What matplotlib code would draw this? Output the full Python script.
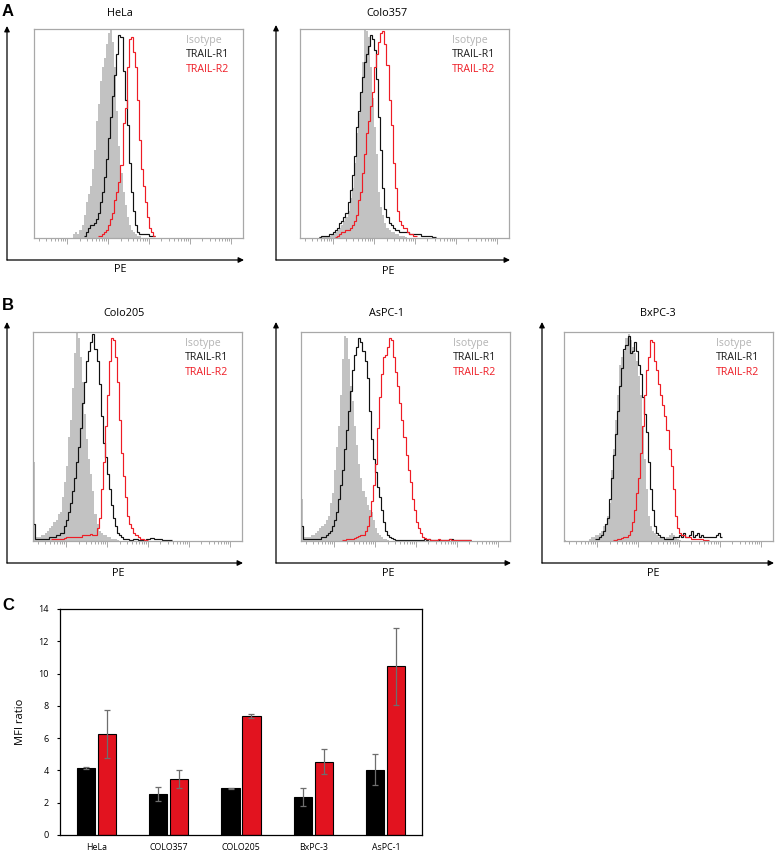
import numpy as np
import matplotlib
matplotlib.use("Agg")
from matplotlib import pyplot as plt

W, H = 778, 852
plt.rcParams['font.family'] = ['Open Sans', 'DejaVu Sans']

# ---- flow cytometry histograms (heights in % of mode, bins 0.05 decades wide) ----
BIN = 0.05
XLO, XHI = 0.19, 5.29

hela_start = 1.15
hela_iso = [2, 3, 2, 4, 6, 11, 17, 21, 25, 33, 42, 56, 64, 75, 82, 86, 93, 98, 100, 94,
            82, 61, 44, 31, 22, 16, 10, 6, 4, 3, 2, 1, 1]
hela_r1 = [0, 0, 0, 0, 0, 1, 3, 5, 6, 6, 7, 9, 12, 17, 22, 29, 38, 48, 58, 68,
           78, 88, 97, 96, 80, 66, 54, 36, 22, 13, 6, 3, 2, 2, 2, 2, 2, 1, 1, 1]
hela_r2 = [0, 0, 0, 0, 0, 0, 0, 0, 0, 0, 0, 0, 1, 1, 2, 3, 4, 6, 9, 12,
           18, 22, 27, 35, 55, 62, 82, 95, 96, 89, 82, 66, 47, 33, 25, 17, 10, 5, 3, 1]

colo357_start = 0.65
colo357_iso = [0.5, 0.5, 0.5, 1, 1, 1, 2, 2, 3, 4, 5, 6, 8, 10, 13, 19, 24, 36, 50, 60,
               70, 84, 100, 99, 96, 82, 67, 53, 40, 22, 15, 11, 7, 5, 4, 3, 3, 2, 2, 1,
               1, 1, 0.5]
colo357_r1 = [0.5, 1, 1, 1, 1, 2, 2, 3, 4, 5, 7, 8, 10, 12, 17, 23, 30, 39, 53, 61,
              70, 77, 84, 88, 92, 97, 95, 90, 76, 58, 42, 24, 14, 10, 7, 6, 5, 4, 4, 3,
              3, 3, 3, 3, 2, 2, 2, 2, 2, 2, 1, 1, 1, 1, 1, 0.5, 0.5]
colo357_r2 = [0, 0, 0, 0, 0, 0, 0, 0, 0.5, 1, 2, 3, 3, 4, 4, 5, 6, 8, 11, 18,
              22, 31, 40, 50, 56, 63, 70, 82, 88, 94, 98, 99, 93, 83, 66, 54, 36, 24, 13, 8,
              6, 5, 5, 3, 2, 2, 1, 1]

colo205_start = 0.19
colo205_iso = [38, 2, 2, 2, 3, 3, 4, 5, 6, 7, 9, 10, 13, 14, 21, 28, 36, 50, 58, 73,
               90, 100, 97, 88, 76, 61, 49, 39, 32, 24, 13, 8, 5, 4, 3, 3, 2, 2, 1, 1,
               1, 0.5]
colo205_r1 = [8, 1, 1, 1, 1, 1, 1, 1, 2, 2, 2, 3, 3, 4, 4, 7, 10, 14, 18, 24,
              30, 38, 45, 54, 66, 76, 86, 91, 95, 99, 92, 86, 75, 60, 47, 40, 32, 25, 17, 11,
              7, 4, 3, 2, 1, 1, 1, 0.5, 0.5, 1, 1, 0.5, 0.5, 0.5, 0.5, 1, 1, 1.5, 1.5, 1,
              1, 1, 1, 0.5, 0.5, 0.5, 0.5, 0.5]
colo205_r2 = [0, 0, 0, 0, 0, 0, 0, 0, 0, 1, 1, 1, 1, 1, 1, 1.5, 2, 2, 2, 2,
              2, 2, 2, 2, 3, 3, 3, 3, 3.5, 3, 3, 6, 11, 25, 38, 55, 70, 86, 97, 96,
              88, 76, 58, 42, 31, 21, 12, 8, 6, 4, 3, 2, 1, 1, 0.5, 0.5]

aspc1_start = 0.19
aspc1_iso = [20, 2, 2, 2, 2, 3, 3, 4, 5, 6, 7, 8, 10, 12, 18, 23, 34, 45, 55, 70,
             87, 98, 97, 87, 74, 67, 55, 46, 37, 30, 24, 21, 17, 15, 14, 10, 6, 4, 3, 2,
             1, 1, 0.5]
aspc1_r1 = [7, 1, 1, 1, 1, 1, 1, 1, 1, 1, 2, 2, 3, 4, 5, 7, 10, 14, 20, 27,
            34, 44, 53, 62, 72, 82, 89, 93, 97, 95, 91, 86, 78, 62, 49, 39, 33, 26, 21, 15,
            9, 5, 3, 2, 1.5, 1, 0.5, 0.5, 0.5, 0.5, 0.5, 0.5, 0.5, 0.5, 0.5, 0.5, 0.5, 0.5, 0.5, 0.5,
            1, 0.5, 1, 0.5, 0.5, 0.5, 0.5, 0.5, 0.5, 0.5, 0.5, 0.5, 1, 1, 0.5, 0.5, 0.5, 0.5, 0.5, 0.5,
            0.5, 0.5, 0.5]
aspc1_r2 = [0, 0, 0, 0, 0, 0, 0, 0, 0, 0, 0, 0, 0, 0, 0, 0, 0, 0, 0, 0,
            0.5, 0.5, 1, 1, 1, 1, 1.5, 2, 2.5, 3, 3, 5, 7, 12, 19, 27, 37, 54, 69, 80,
            88, 89, 93, 97, 96, 88, 81, 74, 66, 58, 50, 41, 34, 28, 20, 15, 9, 6, 4, 2,
            1.5, 1, 1, 0.5, 0.5, 0.5, 0.5, 1, 0.5, 0.5, 0.5, 0.5, 1, 0.5, 0.5, 0.5, 0.5, 0.5, 0.5, 0.5,
            0.5, 0.5, 0.5]

bxpc3_start = 0.19
bxpc3_iso = [0.5, 0, 0, 0, 0, 0, 0, 0, 0, 0, 0, 0, 1, 2, 2, 3, 3, 4, 5, 7,
             8, 12, 18, 34, 44, 58, 70, 84, 88, 91, 97, 99, 96, 93, 90, 86, 79, 70, 55, 39,
             25, 12, 7, 5, 4, 3, 2, 2, 2, 1, 2, 3, 4, 3, 2, 1, 0.5]
bxpc3_r1 = [0, 0, 0, 0, 0, 0, 0, 0, 0, 0, 0, 0, 0, 0, 0, 1, 1, 2, 3, 5,
            8, 11, 20, 30, 41, 51, 62, 74, 83, 92, 94, 98, 90, 91, 95, 91, 84, 80, 69, 61,
            52, 38, 25, 15, 7, 4, 3, 2, 2, 1, 1, 1, 1, 2, 2, 2, 3, 2, 4, 2,
            2, 3, 5, 2, 3, 4, 2, 3, 2, 2, 2, 2, 2, 2, 3, 4, 2]
bxpc3_r2 = [0, 0, 0, 0, 0, 0, 0, 0, 0, 0, 0, 0, 0, 0, 0, 0, 0, 0, 0, 0,
            0, 0, 0, 0, 0.5, 0.5, 1, 1, 1.5, 2, 2, 3, 5, 9, 15, 23, 30, 42, 55, 70,
            82, 88, 96, 95, 86, 82, 75, 70, 65, 60, 53, 44, 36, 25, 12, 6, 4, 3, 3, 2,
            2, 2, 1, 1, 1, 1, 1, 1, 0.5, 0.5, 0.5]

# ---- MFI ratio bars ----
cell_lines = ["HeLa", "COLO357", "COLO205", "BxPC-3", "AsPC-1"]
r1_mfi = [4.15, 2.55, 2.9, 2.35, 4.05]
r1_err = [0.05, 0.42, 0.03, 0.55, 0.95]
r2_mfi = [6.25, 3.45, 7.35, 4.55, 10.45]
r2_err = [1.5, 0.55, 0.12, 0.75, 2.4]

GREY_FILL = "#c2c2c2"
RED = "#ee1c25"
BAR_RED = "#e2131f"


def px_rect(x0, y0, x1, y1):
    return [x0 / W, 1 - y1 / H, (x1 - x0) / W, (y1 - y0) / H]


def curve(ax, start, vals, **kw):
    vals = np.array(vals, dtype=float)
    nz = np.nonzero(vals)[0]
    i0, i1 = nz[0], nz[-1] + 1
    edges = 10 ** (start + BIN * np.arange(len(vals) + 1))
    ax.stairs(vals[i0:i1], edges[i0:i1 + 1], **kw)


def histo(box, title, title_x, pe_x, pe_y, title_y, arrow_x, arrow_top, start, iso, r1, r2):
    x0, y0, x1, y1 = box
    ax = fig.add_axes(px_rect(x0, y0, x1, y1))
    curve(ax, start, iso, fill=True, color=GREY_FILL, lw=0, baseline=0)
    curve(ax, start, r1, color="#111111", lw=0.85, baseline=None)
    curve(ax, start, r2, color=RED, lw=0.85, baseline=None)
    ax.set_xscale("log")
    ax.set_xlim(10 ** XLO, 10 ** XHI)
    ax.set_ylim(0, 100)
    ax.set_yticks([])
    ax.xaxis.set_major_locator(matplotlib.ticker.LogLocator(base=10, numticks=10))
    ax.xaxis.set_minor_locator(matplotlib.ticker.LogLocator(base=10, subs=np.arange(2, 10), numticks=10))
    ax.tick_params(axis="x", which="major", length=4, width=0.6, color="#9a9a9a", labelbottom=False)
    ax.tick_params(axis="x", which="minor", length=2.5, width=0.6, color="#9a9a9a")
    for s in ax.spines.values():
        s.set_color("#a8a8a8")
        s.set_linewidth(0.9)
    ax.text(0.727, 0.947, "Isotype", color="#b4b4b4", fontsize=7.6, transform=ax.transAxes, va="center")
    ax.text(0.727, 0.876, "TRAIL-R1", color="#1a1a1a", fontsize=7.6, transform=ax.transAxes, va="center")
    ax.text(0.727, 0.805, "TRAIL-R2", color=RED, fontsize=7.6, transform=ax.transAxes, va="center")
    fig.text(title_x / W, 1 - title_y / H, title, fontsize=7.8, ha="center", va="center")
    fig.text(pe_x / W, 1 - pe_y / H, "PE", fontsize=7.8, ha="center", va="center")
    base_y = y1 + 22
    arr = dict(arrowstyle="-|>", color="k", lw=0.9, mutation_scale=8, shrinkA=0, shrinkB=0)
    fig.add_artist(matplotlib.patches.FancyArrowPatch(
        (arrow_x, H - base_y), (arrow_x, H - arrow_top), transform=None, **arr))
    fig.add_artist(matplotlib.patches.FancyArrowPatch(
        (arrow_x, H - base_y), (x1 + 1, H - base_y), transform=None, **arr))


fig = plt.figure(figsize=(W / 100, H / 100), dpi=100)

histo((34, 29, 243, 238), "HeLa", 120, 120, 270, 14, 7, 26, hela_start, hela_iso, hela_r1, hela_r2)
histo((300, 29, 509, 238), "Colo357", 387, 388, 271, 14, 276, 25, colo357_start, colo357_iso, colo357_r1, colo357_r2)
histo((33, 332, 242, 541), "Colo205", 124, 118, 573, 314, 7, 322, colo205_start, colo205_iso, colo205_r1, colo205_r2)
histo((301, 332, 510, 541), "AsPC-1", 387, 388, 573, 314, 276, 322, aspc1_start, aspc1_iso, aspc1_r1, aspc1_r2)
histo((564, 332, 773, 541), "BxPC-3", 658, 653, 573, 314, 542, 322, bxpc3_start, bxpc3_iso, bxpc3_r1, bxpc3_r2)

fig.text(2 / W, 1 - 11 / H, "A", fontsize=12, fontweight="bold", family="Liberation Sans", va="center")
fig.text(2 / W, 1 - 305 / H, "B", fontsize=12, fontweight="bold", family="Liberation Sans", va="center")
fig.text(2 / W, 1 - 606 / H, "C", fontsize=12, fontweight="bold", family="Liberation Sans", va="center")

# ---- panel C ----
axc = fig.add_axes(px_rect(60, 609, 422, 835))
x = np.arange(len(cell_lines))
axc.bar(x - 0.145, r1_mfi, width=0.25, color="black", edgecolor="black", lw=0.8, zorder=2)
axc.bar(x + 0.145, r2_mfi, width=0.25, color=BAR_RED, edgecolor="black", lw=0.8, zorder=2)
axc.errorbar(x - 0.145, r1_mfi, yerr=r1_err, fmt="none", ecolor="#6e6e6e", elinewidth=0.9, capsize=2.5, capthick=0.9, zorder=3)
axc.errorbar(x + 0.145, r2_mfi, yerr=r2_err, fmt="none", ecolor="#6e6e6e", elinewidth=0.9, capsize=2.5, capthick=0.9, zorder=3)
axc.set_xlim(-0.5, 4.5)
axc.set_ylim(0, 14)
axc.set_yticks(np.arange(0, 15, 2))
axc.set_xticks(x)
axc.set_xticklabels(cell_lines)
axc.tick_params(axis="x", length=0, labelsize=6.3, pad=6)
axc.tick_params(axis="y", length=2, width=0.8, labelsize=6.5, pad=6)
axc.set_ylabel("MFI ratio", fontsize=8, labelpad=9)
for s in axc.spines.values():
    s.set_linewidth(0.9)

fig.savefig("out.png", dpi=100)
